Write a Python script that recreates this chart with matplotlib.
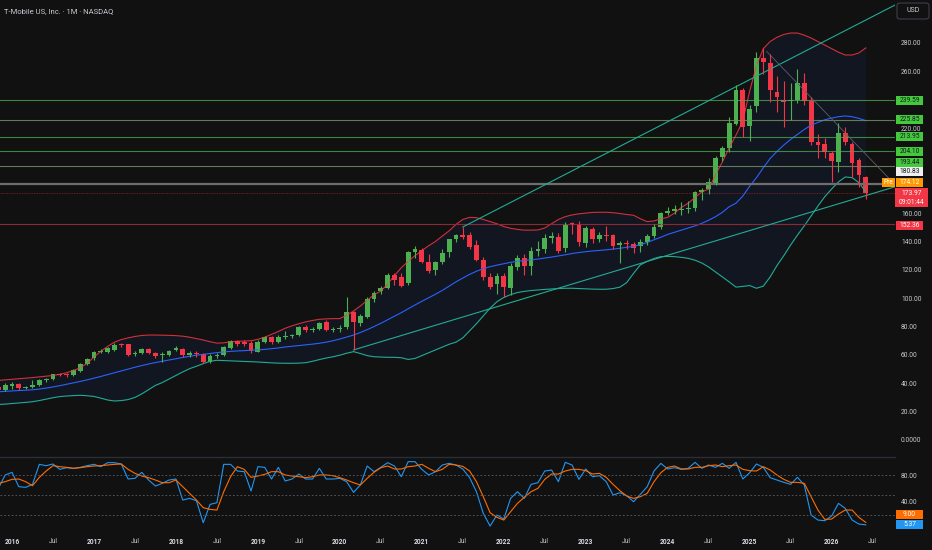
import matplotlib
matplotlib.use("Agg")
import matplotlib.pyplot as plt
import matplotlib.transforms as mtrans
from matplotlib.patches import Rectangle, FancyBboxPatch
import numpy as np
import pandas as pd

plt.rcParams['font.family'] = ['Roboto', 'DejaVu Sans']

W, H = 932, 550
BG = '#111111'
GREEN = '#4caf50'
RED = '#f23645'
TEAL = '#22ab94'
TXT = '#c8cbd2'

# monthly candles, Nov 2015 .. Jun 2026
months = pd.period_range('2015-11', '2026-06', freq='M')

opens = [37.6, 35.3,
         38.4, 39.5, 36.5, 37.3, 38.8, 42.0, 42.8, 46.2, 46.0, 45.8, 48.9, 53.6,
         57.6, 62.0, 62.3, 63.5, 67.7, 67.5, 60.6, 61.6, 64.2, 61.1, 59.8, 60.0,
         63.5, 64.2, 60.2, 61.0, 60.6, 55.2, 59.5, 60.0, 64.7, 70.0, 68.9, 68.2,
         62.3, 68.9, 72.4, 68.9, 72.9, 73.0, 74.0, 80.0, 77.8, 78.3, 83.0, 77.9,
         78.4, 79.5, 90.0, 82.3, 87.0, 99.4, 105.0, 107.4, 116.4, 115.2, 110.9, 132.8,
         134.0, 125.7, 119.9, 125.3, 132.4, 141.5, 144.6, 144.6, 137.5, 127.0, 114.7, 110.0,
         115.7, 107.4, 121.8, 128.6, 122.7, 133.3, 134.5, 142.7, 143.4, 135.6, 152.8, 152.3,
         138.7, 148.8, 141.5, 144.6, 144.6, 137.5, 139.0, 138.0, 136.5, 139.8, 143.9, 150.2,
         160.3, 161.5, 162.5, 162.9, 163.8, 174.7, 176.8, 181.5, 199.4, 205.7, 222.8, 246.8,
         221.7, 235.5, 269.2, 266.0, 245.6, 239.8, 239.0, 239.8, 252.0, 239.3, 209.9, 208.7,
         202.2, 195.8, 216.7, 208.5, 197.5, 185.3]
highs = [38.6, 40.0,
         40.6, 40.0, 38.2, 42.3, 43.0, 44.0, 46.8, 47.2, 47.0, 49.8, 54.0, 57.6,
         62.5, 64.5, 65.5, 68.5, 68.5, 68.0, 62.5, 65.0, 65.0, 62.0, 62.0, 63.8,
         66.0, 65.0, 63.0, 62.5, 61.5, 60.5, 61.0, 66.0, 70.5, 70.8, 70.5, 69.5,
         70.5, 73.0, 73.5, 74.0, 77.0, 75.0, 80.5, 81.0, 79.5, 83.0, 84.5, 79.5,
         81.0, 101.0, 91.0, 89.0, 100.5, 105.0, 108.5, 117.5, 117.5, 118.0, 133.5, 137.0,
         135.5, 131.0, 126.5, 135.0, 142.0, 145.5, 150.4, 147.0, 141.0, 129.0, 118.0, 118.0,
         117.5, 124.5, 130.5, 131.0, 136.3, 140.0, 145.5, 147.0, 146.0, 154.0, 154.0, 154.5,
         151.0, 150.5, 147.0, 151.0, 145.5, 140.5, 141.0, 139.5, 142.0, 145.5, 152.0, 161.0,
         164.0, 165.5, 168.0, 168.5, 175.8, 178.0, 184.8, 200.0, 207.5, 228.0, 250.4, 248.5,
         236.0, 273.8, 276.2, 272.0, 257.0, 253.0, 251.5, 261.4, 258.6, 242.0, 216.0, 213.0,
         204.0, 223.8, 221.0, 210.0, 199.0, 186.5]
lows = [34.8, 34.6,
        36.0, 35.5, 35.8, 36.8, 38.2, 41.0, 42.3, 45.2, 44.5, 45.0, 48.0, 52.8,
        56.5, 61.0, 61.5, 63.0, 65.5, 59.5, 59.5, 60.5, 60.5, 58.0, 55.2, 59.0,
        62.5, 58.5, 58.5, 58.5, 54.5, 54.5, 58.0, 59.2, 64.0, 66.5, 66.5, 61.5,
        62.0, 68.5, 68.0, 68.5, 71.5, 72.0, 73.5, 76.5, 76.5, 77.5, 77.0, 76.5,
        76.0, 78.5, 63.5, 80.5, 86.0, 97.5, 103.0, 106.5, 109.5, 108.0, 109.5, 128.5,
        124.5, 117.5, 116.5, 124.0, 129.0, 139.5, 141.5, 135.0, 126.5, 112.5, 106.5, 103.0,
        101.0, 102.0, 120.0, 116.5, 116.5, 130.0, 132.0, 139.0, 132.0, 132.5, 145.5, 137.0,
        136.0, 139.0, 139.5, 140.5, 135.0, 125.0, 134.5, 132.0, 132.5, 137.5, 142.5, 149.0,
        158.5, 159.5, 158.7, 160.0, 161.5, 169.5, 173.5, 180.0, 197.0, 203.0, 222.0, 214.0,
        211.0, 231.5, 258.0, 238.6, 231.0, 220.5, 225.7, 238.0, 236.0, 208.0, 199.0, 199.0,
        182.2, 189.2, 208.0, 185.7, 178.6, 169.8]
closes = [35.3, 38.8,
          39.5, 36.5, 37.6, 38.8, 42.3, 43.0, 46.3, 46.0, 45.6, 49.4, 53.6, 57.1,
          61.8, 62.8, 64.7, 67.0, 67.0, 59.9, 61.6, 64.2, 61.3, 59.2, 60.8, 63.0,
          64.7, 60.0, 61.0, 60.5, 55.2, 59.5, 60.2, 65.6, 70.0, 67.7, 67.7, 63.0,
          69.3, 72.4, 68.9, 72.9, 73.0, 73.8, 79.5, 77.6, 78.5, 82.3, 77.6, 78.3,
          79.0, 90.0, 83.4, 87.7, 99.4, 103.9, 107.0, 116.4, 113.0, 108.6, 132.8, 134.5,
          125.7, 119.2, 125.3, 132.0, 141.5, 144.6, 143.0, 136.3, 127.0, 114.7, 108.1, 115.7,
          107.7, 122.7, 128.1, 122.7, 133.3, 134.5, 142.7, 143.9, 133.5, 151.6, 151.6, 139.4,
          149.3, 141.5, 144.6, 143.8, 136.8, 139.1, 138.0, 135.6, 139.8, 143.9, 150.4, 160.3,
          161.5, 162.9, 162.7, 163.8, 174.7, 176.3, 182.2, 198.7, 205.7, 223.3, 246.8, 220.8,
          233.2, 269.6, 266.6, 246.8, 242.0, 238.1, 239.2, 252.0, 239.3, 209.9, 208.2, 202.9,
          197.0, 216.7, 209.9, 195.1, 186.9, 173.97]

# Bollinger bands
bb_upper = [42.0, 42.4,
            42.8, 43.2, 43.6, 44.0, 44.5, 45.0, 45.5, 46.3, 47.5, 49.0, 51.0, 54.0,
            58.5, 62.5, 66.0, 69.0, 70.8, 72.0, 73.0, 73.7, 74.0, 74.0, 73.9, 73.8,
            73.6, 73.2, 72.5, 71.5, 70.5, 69.3, 68.3, 68.5, 69.3, 69.6, 69.8, 70.0,
            71.0, 72.5, 74.5, 76.5, 78.8, 80.5, 82.0, 83.3, 84.3, 85.1, 85.4, 85.6,
            85.6, 88.0, 91.0, 94.5, 98.5, 102.5, 105.0, 110.0, 116.0, 121.5, 126.0, 130.0,
            133.5, 137.0, 140.0, 143.8, 147.5, 152.0, 155.5, 157.0, 156.8, 155.5, 154.0, 152.5,
            150.5, 149.3, 148.5, 148.0, 148.0, 148.1, 149.5, 152.5, 155.5, 157.5, 158.7, 159.5,
            160.0, 160.5, 160.6, 160.6, 160.3, 159.7, 159.0, 158.5, 156.0, 154.0, 154.5, 156.0,
            157.0, 160.0, 164.0, 167.0, 171.0, 175.0, 177.0, 187.0, 196.0, 206.0, 215.0, 225.0,
            246.0, 264.0, 276.0, 281.0, 284.0, 286.0, 287.0, 287.0, 285.5, 283.5, 281.0, 278.5,
            276.0, 273.5, 271.5, 271.5, 273.0, 276.5]
bb_mid = [34.0, 34.3,
          34.6, 34.9, 35.1, 35.4, 35.9, 36.6, 37.4, 38.3, 39.3, 40.3, 41.3, 42.4,
          43.6, 44.8, 46.1, 47.4, 48.7, 50.0, 51.3, 52.5, 53.6, 54.6, 55.5, 56.4,
          57.3, 58.2, 59.0, 59.8, 60.4, 61.0, 61.6, 62.1, 62.5, 62.8, 63.0, 63.3,
          63.6, 63.9, 64.4, 64.9, 65.6, 66.1, 66.6, 67.1, 67.6, 68.2, 69.0, 70.0,
          71.2, 72.6, 74.0, 75.8, 77.8, 80.0, 82.3, 84.8, 87.3, 89.8, 92.5, 95.2,
          97.8, 100.3, 102.8, 105.5, 108.5, 111.5, 114.2, 116.8, 119.0, 120.8, 122.2, 123.3,
          124.3, 125.3, 126.0, 126.6, 127.1, 127.6, 128.3, 129.0, 129.8, 130.6, 131.5, 132.2,
          132.8, 133.3, 133.7, 134.1, 134.6, 135.2, 135.9, 136.6, 137.7, 139.3, 141.2, 143.0,
          145.0, 146.5, 148.0, 149.5, 151.0, 152.8, 155.0, 157.5, 160.5, 164.5, 167.0, 172.0,
          179.0, 185.0, 192.0, 198.5, 203.5, 208.0, 212.0, 215.5, 219.0, 222.0, 224.0, 225.8,
          227.0, 228.0, 228.5, 228.0, 226.8, 225.2]
bb_lower = [25.0, 25.3,
            25.7, 26.1, 26.5, 27.0, 27.8, 28.8, 29.8, 30.6, 31.0, 31.3, 31.5, 31.2,
            30.7, 29.5, 28.2, 27.5, 27.8, 28.5, 30.0, 32.5, 35.5, 38.5, 40.5, 43.0,
            45.5, 48.0, 50.3, 52.0, 53.8, 55.5, 56.2, 56.0, 55.8, 55.6, 55.4, 55.2,
            55.0, 54.7, 54.4, 54.2, 54.1, 54.1, 54.2, 54.5, 55.5, 56.7, 57.8, 58.7,
            59.8, 61.2, 62.3, 61.0, 59.5, 58.7, 58.5, 58.3, 58.3, 58.0, 56.8, 57.5,
            59.5, 61.5, 63.5, 65.5, 67.5, 69.0, 72.0, 77.0, 82.0, 87.5, 93.0, 97.5,
            100.5, 102.5, 104.0, 104.8, 105.4, 105.8, 106.2, 106.5, 106.8, 107.0, 107.0, 106.8,
            106.6, 106.4, 106.3, 106.3, 106.8, 107.8, 111.0, 117.5, 123.5, 126.0, 128.0, 129.3,
            129.5, 129.3, 128.8, 128.1, 126.8, 124.8, 122.0, 118.5, 115.0, 111.5, 107.8, 108.3,
            108.9, 107.0, 108.5, 115.0, 123.0, 130.0, 137.5, 144.5, 151.0, 158.0, 165.0, 171.6,
            177.0, 182.0, 185.5, 185.0, 181.5, 175.0]

# Stochastic RSI
stoch_k = [60, 80,
           84, 62.5, 61.5, 66, 96, 94, 96.5, 88.5, 91, 90, 91.5, 94,
           96, 92.5, 98.5, 98.5, 96.5, 74, 75, 84, 72.5, 63.5, 67.5, 72.5,
           74, 42.5, 45, 41.5, 8.5, 36, 38.5, 96, 96, 86, 85, 56,
           92.5, 91.5, 74, 91.5, 71, 74, 81.5, 74, 74, 90, 74, 74,
           75, 70, 54, 65, 93.5, 85, 91.5, 98.5, 93.5, 77.5, 100, 100,
           88.5, 80, 85, 95, 97.5, 95, 89, 76, 55, 22.5, 3.5, 20,
           14, 45, 55, 45, 66, 68.5, 86, 87.5, 70, 99, 95, 73.5,
           89, 77.5, 79, 70, 50, 53.5, 49, 40, 51, 62.5, 86, 97.5,
           89, 91, 88.5, 90, 99, 90, 95, 91.5, 97.5, 90, 99, 74,
           83.5, 96.5, 91.5, 76, 72.5, 69, 66, 76.5, 65, 20, 12.5, 11.5,
           18.5, 37.5, 30, 12.5, 6.5, 5.37]
stoch_d = [67.5, 70,
           73.5, 74, 70, 64, 76.5, 86, 94, 92.5, 91.5, 90, 91, 92.5,
           93.5, 94, 95, 96, 96.5, 88.5, 82.5, 78.5, 76, 72.5, 68.5, 68.5,
           72.5, 62.5, 52.5, 42.5, 31, 28.5, 27.5, 55, 77.5, 92.5, 88.5, 76.5,
           78.5, 81, 85, 85, 80, 78.5, 77.5, 76, 77.5, 80, 80, 79,
           76, 72.5, 68.5, 65, 75, 84, 91, 93.5, 89, 89, 92.5, 93.5,
           96, 90, 85, 88.5, 96, 95, 93, 86, 70, 47.5, 23.5, 16.5,
           12.5, 25, 37.5, 46.5, 55, 60, 73.5, 81.5, 81.5, 86, 88.5, 88.5,
           86.5, 81.5, 82.5, 76.5, 66, 56.5, 48.5, 45, 47.5, 52.5, 70, 83.5,
           91.5, 93.5, 89, 89, 91.5, 91.5, 94, 95, 92.5, 94, 95, 88.5,
           86.5, 86, 92.5, 87.5, 80, 73.5, 69, 69, 67.5, 47.5, 27.5, 13.5,
           14, 21.5, 27.5, 27.5, 16.5, 9.0]

# drawn levels and trend lines (month index, price)
levels_green = [239.59, 213.95, 204.10]
levels_olive = [225.85, 193.44]
level_white = 180.83
level_last = 173.97
level_red = 152.36
upper_trend = [(66.0, 150.2), (129.3, 306.8)]
lower_trend = [(50.0, 63.5), (129.3, 178.6)]
top_trend = [(110.5, 274.0), (129.3, 180.0)]

x = np.array([(p.year - 2016) * 12 + p.month - 1 for p in months])
o, hi, lo, c = map(np.array, (opens, highs, lows, closes))


def frect(left, top, right, bottom):
    return [left / W, 1 - bottom / H, (right - left) / W, (bottom - top) / H]


fig = plt.figure(figsize=(W / 100, H / 100), dpi=100, facecolor=BG)
ax = fig.add_axes(frect(0, 0, 895, 457), facecolor=BG)
ax2 = fig.add_axes(frect(0, 457, 895, 532), facecolor=BG)
XL = (-1.757, 129.28)

# bands
ax.fill_between(x, bb_lower, bb_upper, color='#2962ff', alpha=0.07, lw=0)
ax.plot(x, bb_upper, color=RED, lw=0.8, alpha=0.85)
ax.plot(x, bb_mid, color='#2962ff', lw=0.8)
ax.plot(x, bb_lower, color=TEAL, lw=0.8)

# horizontal levels
for v in levels_green:
    ax.axhline(v, color=GREEN, lw=0.8, alpha=0.75)
for v in levels_olive:
    ax.axhline(v, color='#6f8f62', lw=0.8, alpha=0.85)
ax.axhline(level_white, color='#6e6e6e', lw=1.6)
ax.axhline(level_last, color=RED, lw=0.6, alpha=0.5, ls=(0, (1, 1)))
ax.axhline(level_red, color='#8b2a36', lw=0.8)

# trend lines
for line, col, lw in [(upper_trend, TEAL, 0.8), (lower_trend, TEAL, 0.8), (top_trend, '#5d606b', 0.6)]:
    (x0, y0), (x1, y1) = line
    ax.plot([x0, x1], [y0, y1], color=col, lw=lw)

# candles
up = c >= o
cols = np.where(up, GREEN, RED)
ax.vlines(x, lo, hi, colors=cols, lw=0.8)
body = np.maximum(np.abs(c - o), 0.6)
ax.bar(x, body, bottom=np.minimum(o, c), width=0.7, color=cols, lw=0)

ax.set_xlim(*XL)
ax.set_ylim(-12.0, 310.3)
for s in ax.spines.values():
    s.set_visible(False)
ax.set_xticks([])
ax.yaxis.tick_right()
pticks = [0, 20, 40, 60, 80, 100, 120, 140, 160, 220, 260, 280]
ax.set_yticks(pticks)
ax.set_yticklabels(['0.0000' if t == 0 else f'{t:.2f}' for t in pticks])
ax.tick_params(axis='y', length=0, pad=4.3, labelsize=4.8, colors=TXT)

# stoch panel
ax2.plot(x, stoch_k, color='#2196f3', lw=0.8)
ax2.plot(x, stoch_d, color='#ff6d00', lw=0.8)
for v in (80, 50, 20):
    ax2.axhline(v, color='#5d606b', lw=0.6, ls=(0, (2, 2.5)))
ax2.set_xlim(*XL)
ax2.set_ylim(-5.4, 107)
for k, s in ax2.spines.items():
    s.set_visible(k == 'top')
ax2.spines['top'].set_color('#2a2e39')
ax2.spines['top'].set_linewidth(1.0)
ax2.yaxis.tick_right()
ax2.set_yticks([80, 40])
ax2.set_yticklabels(['80.00', '40.00'])
ax2.tick_params(axis='y', length=0, pad=4.3, labelsize=4.8, colors=TXT)

xt, xl = [], []
for yr in range(2016, 2027):
    m = (yr - 2016) * 12
    xt += [m, m + 6]
    xl += [str(yr), 'Jul']
ax2.set_xticks(xt)
ax2.set_xticklabels(xl)
ax2.tick_params(axis='x', length=0, pad=4.5, labelsize=4.8, colors=TXT)
for t in ax2.get_xticklabels():
    if t.get_text() != 'Jul':
        t.set_fontweight('bold')
        t.set_color('#d8dbe2')


def tag(a, yv, text, bg, fg, x0=896, x1=923, h=9, text2=None):
    tr = mtrans.blended_transform_factory(fig.transFigure, a.transData)
    lo_, hi_ = a.get_ylim()
    per_px = (hi_ - lo_) / (a.get_position().height * H)
    hd = h * per_px
    a.add_patch(Rectangle((x0 / W, yv - hd / 2), (x1 - x0) / W, hd, transform=tr,
                          facecolor=bg, lw=0, clip_on=False, zorder=5))
    if text2 is None:
        a.text((x0 + x1) / 2 / W, yv, text, transform=tr, ha='center', va='center',
               fontsize=4.8, color=fg, zorder=6, clip_on=False)
    else:
        a.text((x0 + x1) / 2 / W, yv + hd * 0.22, text, transform=tr, ha='center', va='center',
               fontsize=4.8, color=fg, zorder=6, clip_on=False)
        a.text((x0 + x1) / 2 / W, yv - hd * 0.24, text2, transform=tr, ha='center', va='center',
               fontsize=4.8, color=fg, zorder=6, clip_on=False)


LG = '#45c93c'
DARK = '#131722'
tag(ax, 239.6, '239.59', LG, DARK)
tag(ax, 226.2, '225.85', LG, DARK)
tag(ax, 213.9, '213.95', LG, DARK)
tag(ax, 203.8, '204.10', LG, DARK)
tag(ax, 195.6, '193.44', LG, DARK)
tag(ax, 189.2, '180.83', '#f0f0f0', DARK)
tag(ax, 181.5, 'Pre', '#ff9800', 'white', x0=882, x1=895)
tag(ax, 181.5, '174.12', '#ff9800', 'white')
tag(ax, 171.0, '173.97', RED, 'white', x0=895, x1=928, h=19, text2='09:01:44')
tag(ax, 151.6, '152.36', RED, 'white')
tag(ax2, 20.1, '9.00', '#ff6d00', 'white')
tag(ax2, 5.1, '5.37', '#2196f3', 'white')

fig.text(4 / W, 1 - 11 / H, 'T-Mobile US, Inc. · 1M · NASDAQ', ha='left', va='center',
         fontsize=5.5, color=TXT)
fig.patches.append(FancyBboxPatch((897 / W, 1 - 19 / H), 32 / W, 16 / H,
                                  boxstyle='round,pad=0,rounding_size=0.004',
                                  transform=fig.transFigure, facecolor=BG,
                                  edgecolor='#434651', lw=0.7))
fig.text(913 / W, 1 - 11 / H, 'USD', ha='center', va='center', fontsize=5, color=TXT)

fig.savefig('out.png', dpi=100, facecolor=BG)
